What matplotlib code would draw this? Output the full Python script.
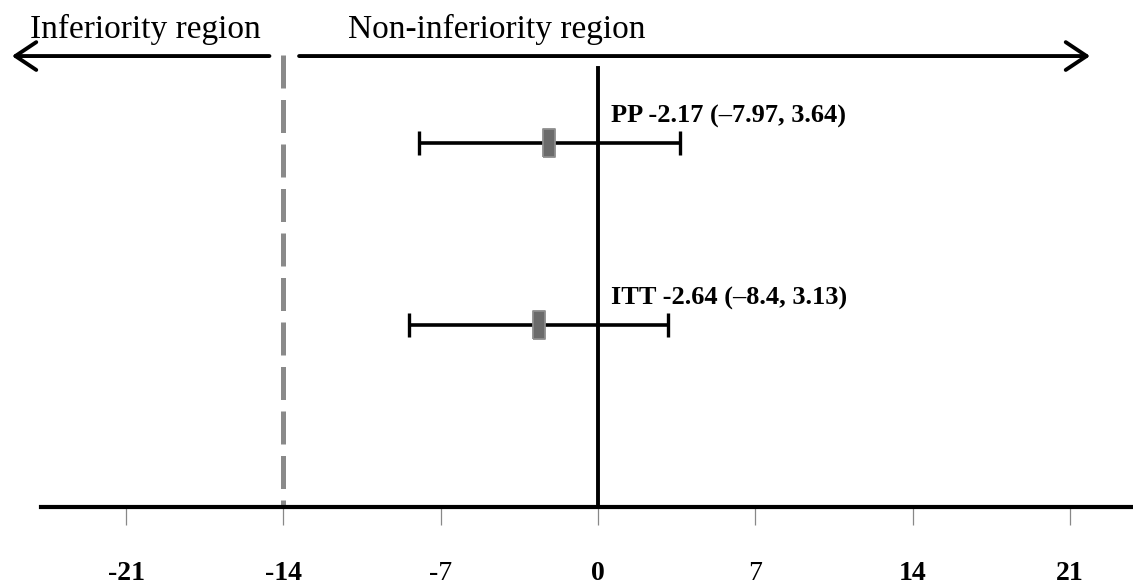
import matplotlib
matplotlib.use("Agg")
import matplotlib.pyplot as plt

# data
groups = ["PP", "ITT"]
estimates = [-2.17, -2.64]
ci_low = [-7.97, -8.4]
ci_high = [3.64, 3.13]
tick_values = [-21, -14, -7, 0, 7, 14, 21]
bold_ticks = [-21, -14, 0, 14, 21]
margin = -14

plt.rcParams['font.family'] = ['Liberation Serif', 'DejaVu Serif']

fig = plt.figure(figsize=(11.33, 5.85), dpi=100)
ax = fig.add_axes([0, 0, 1, 1])

xmin, xmax = -26.61, 23.81
ax.set_xlim(xmin, xmax)
ax.set_ylim(-0.429, 2.786)

# rows from top to bottom
ypos = [len(groups) - i for i in range(len(groups))]

# confidence intervals
xerr = [[e - lo for e, lo in zip(estimates, ci_low)],
        [hi - e for e, hi in zip(estimates, ci_high)]]
ax.errorbar(estimates, ypos, xerr=xerr, fmt='none', ecolor='black',
            elinewidth=2.6, capsize=8.3, capthick=2.4, zorder=3)

# point estimates as small upright boxes
box = [(-0.24, -0.5), (0.24, -0.5), (0.24, 0.5), (-0.24, 0.5), (-0.24, -0.5)]
ax.plot(estimates, ypos, ls='none', marker=box, ms=19.5,
        mfc='#6b6b6b', mec='#8e8e8e', mew=1.3, zorder=5)

# labels next to each interval
for g, e, lo, hi, y in zip(groups, estimates, ci_low, ci_high, ypos):
    ax.text(0.58, y + 0.145, f"{g} {e} (\u2013{abs(lo):g}, {hi})",
            fontsize=19, fontweight='bold', ha='left', va='center')

# zero line and non-inferiority margin
ax.plot([0, 0], [0, 2.412], color='black', lw=2.8, zorder=4)
ax.plot([margin, margin], [2.484, 0], color='#8a8a8a', lw=3.6,
        ls=(0, (6.6, 2.3)), zorder=2)

# region arrows and titles
arrow_y = 2.478
ax.annotate('', xy=(-26.08, arrow_y), xytext=(margin - 0.62, arrow_y),
            arrowprops=dict(arrowstyle='->,head_length=0.75,head_width=0.5',
                            lw=2.8, color='black', mutation_scale=20,
                            shrinkA=0, shrinkB=0))
ax.annotate('', xy=(21.9, arrow_y), xytext=(margin + 0.7, arrow_y),
            arrowprops=dict(arrowstyle='->,head_length=0.75,head_width=0.5',
                            lw=2.8, color='black', mutation_scale=20,
                            shrinkA=0, shrinkB=0))
ax.text(-20.15, 2.625, "Inferiority region", fontsize=24, ha='center', va='center')
ax.text(-4.5, 2.625, "Non-inferiority region", fontsize=24, ha='center', va='center')

# x axis
for side in ['top', 'right', 'left']:
    ax.spines[side].set_visible(False)
ax.spines['bottom'].set_position(('data', 0))
ax.spines['bottom'].set_bounds(-24.8, xmax)
ax.spines['bottom'].set_linewidth(3)
ax.set_yticks([])
ax.set_xticks(tick_values)
ax.set_xticklabels([str(t) for t in tick_values])
ax.tick_params(axis='x', direction='out', length=13, width=0.9,
               color='#888888', pad=26, labelsize=20)
for lab, t in zip(ax.get_xticklabels(), tick_values):
    lab.set_fontweight('bold' if t in bold_ticks else 'normal')

fig.savefig('out.png', dpi=100)
